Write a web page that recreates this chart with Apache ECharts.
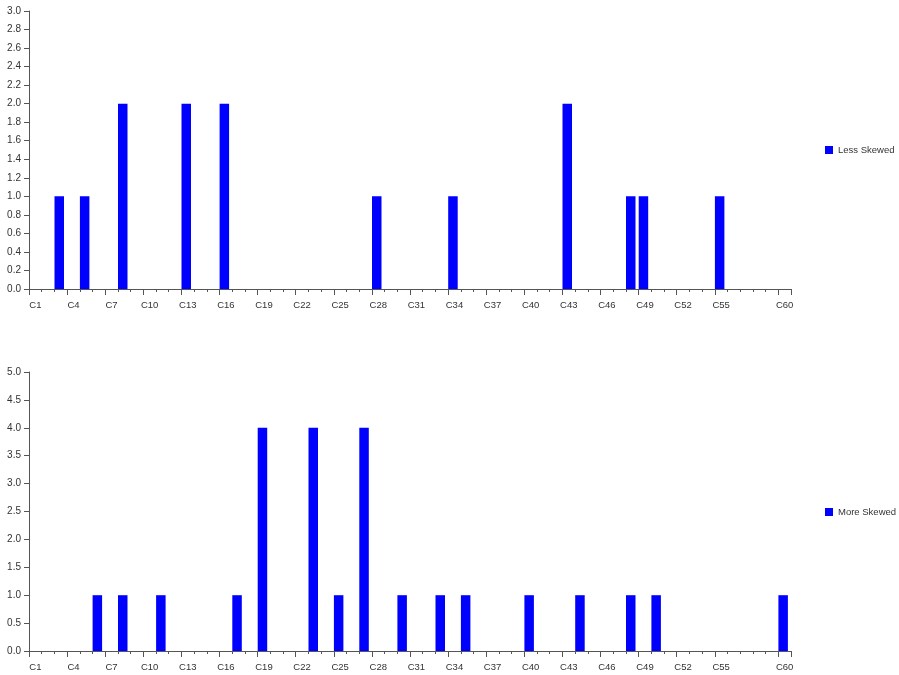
<!DOCTYPE html>
<html>
<head>
<meta charset="utf-8">
<script src="https://cdn.jsdelivr.net/npm/echarts@6/dist/echarts.min.js"></script>
<style>
html,body{margin:0;padding:0;background:#fff;}
#chart{width:899px;height:675px;}
</style>
</head>
<body>
<div id="chart"></div>
<script>
// Categories C1..C60
var categories = ["C1","C2","C3","C4","C5","C6","C7","C8","C9","C10","C11","C12","C13","C14","C15","C16","C17","C18","C19","C20","C21","C22","C23","C24","C25","C26","C27","C28","C29","C30","C31","C32","C33","C34","C35","C36","C37","C38","C39","C40","C41","C42","C43","C44","C45","C46","C47","C48","C49","C50","C51","C52","C53","C54","C55","C56","C57","C58","C59","C60"];

// Less Skewed values (C1..C60)
var lessSkewed = [0,0,1,0,1,0,0,2,0,0, 0,0,2,0,0,2,0,0,0,0, 0,0,0,0,0,0,0,1,0,0, 0,0,0,1,0,0,0,0,0,0, 0,0,2,0,0,0,0,1,1,0, 0,0,0,0,1,0,0,0,0,0];

// More Skewed values (C1..C60)
var moreSkewed = [0,0,0,0,0,1,0,1,0,0, 1,0,0,0,0,0,1,0,4,0, 0,0,4,0,1,0,4,0,0,1, 0,0,1,0,1,0,0,0,0,1, 0,0,0,1,0,0,0,1,0,1, 0,0,0,0,0,0,0,0,0,1];

var seriesNames = ["Less Skewed", "More Skewed"];
var yMax = [3, 5];
var yStep = [0.2, 0.5];

var axisColor = '#555';
var textColor = '#333';
var barColor = '#0000ff';
var fontFam = '"Liberation Sans", Arial, sans-serif';

function majorFn(index) {
  var n = categories.length;
  return (index % 3 === 0 && index + 3 < n) || index === n - 1;
}

var grids = [
  {left: 29, right: 108, top: 11, height: 278},
  {left: 29, right: 108, top: 372, height: 279}
];

var xAxes = [], yAxes = [], series = [], legends = [];
[lessSkewed, moreSkewed].forEach(function (vals, g) {
  xAxes.push({
    type: 'category', gridIndex: g, data: categories, boundaryGap: true, position: 'bottom',
    axisLine: {show: true, lineStyle: {color: axisColor, width: 1}},
    axisTick: {show: true, interval: majorFn, length: 6, lineStyle: {color: axisColor}},
    axisLabel: {show: true, interval: majorFn, margin: 11, color: textColor, fontSize: 9.5, fontFamily: fontFam},
    splitLine: {show: false}
  });
  xAxes.push({
    type: 'category', gridIndex: g, data: categories, boundaryGap: true, position: 'bottom', offset: 0,
    axisLine: {show: false},
    axisTick: {show: true, interval: 0, length: 3, lineStyle: {color: axisColor}},
    axisLabel: {show: false},
    splitLine: {show: false}
  });
  yAxes.push({
    type: 'value', gridIndex: g, min: 0, max: yMax[g], interval: yStep[g],
    axisLine: {show: true, lineStyle: {color: axisColor, width: 1}},
    axisTick: {show: true, length: 5, lineStyle: {color: axisColor}},
    axisLabel: {margin: 8, color: textColor, fontSize: 10, fontFamily: fontFam,
      formatter: function (v) { return v.toFixed(1); }},
    splitLine: {show: false}
  });
  series.push({
    name: seriesNames[g], type: 'bar', xAxisIndex: g * 2, yAxisIndex: g,
    data: vals, barWidth: 9.5, barGap: '0%',
    itemStyle: {color: barColor}
  });
  series.push({
    name: 'pad' + g, type: 'bar', xAxisIndex: g * 2, yAxisIndex: g,
    data: vals.map(function () { return '-'; }), barWidth: 3, barGap: '0%',
    itemStyle: {color: 'rgba(0,0,0,0)'}, silent: true
  });
  legends.push({
    data: [seriesNames[g]], left: 820, top: g === 0 ? 140 : 502, orient: 'vertical',
    icon: 'rect', itemWidth: 8, itemHeight: 8, itemGap: 6,
    textStyle: {color: textColor, fontSize: 9.5, fontFamily: fontFam}
  });
});

var chart = echarts.init(document.getElementById('chart'), null, {renderer: 'canvas'});
chart.setOption({
  animation: false,
  backgroundColor: '#fff',
  grid: grids,
  xAxis: xAxes,
  yAxis: yAxes,
  legend: legends,
  series: series
});
</script>
</body>
</html>
